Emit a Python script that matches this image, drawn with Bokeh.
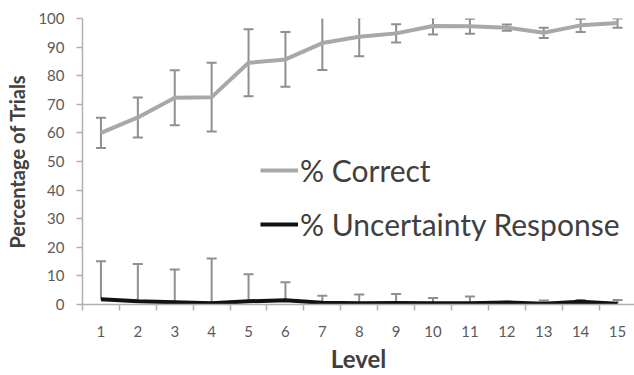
from bokeh.plotting import figure
from bokeh.models import FixedTicker, Range1d, Legend, LegendItem, ColumnDataSource
from bokeh.embed import file_html
from bokeh.resources import INLINE

# ---- data ----
levels = list(range(1, 16))
correct = [60.0, 65.4, 72.3, 72.5, 84.5, 85.7, 91.4, 93.6, 94.8, 97.4, 97.3, 96.8, 95.0, 97.6, 98.4]
correct_err = [5.3, 7.0, 9.6, 12.0, 11.7, 9.6, 9.4, 6.8, 3.2, 3.0, 2.6, 1.1, 1.8, 2.3, 1.6]
uncert = [1.8, 1.1, 0.8, 0.4, 1.1, 1.5, 0.6, 0.4, 0.5, 0.4, 0.4, 0.7, 0.3, 1.0, 0.3]
uncert_err = [13.3, 13.1, 11.4, 15.7, 9.5, 6.3, 2.5, 3.1, 3.2, 1.9, 2.4, 0.3, 1.1, 0.6, 1.3]
y_ticks = list(range(0, 101, 10))
x_minor = [i + 0.5 for i in range(0, 16)]

FONT = "Lato"
GRAY_LINE = "#a8a8a8"
GRAY_ERR = "#8f8f8f"
AXIS_COLOR = "#b0b0b0"
TEXT = "#404040"
TICK_TEXT = "#5a5a5a"

p = figure(width=634, height=375, output_backend="svg", toolbar_location=None,
           x_range=Range1d(0.5, 15.46), y_range=Range1d(0, 100),
           min_border_left=82, min_border_right=0, min_border_top=18, min_border_bottom=71)
p.background_fill_color = "white"
p.border_fill_color = "white"
p.outline_line_color = None
p.grid.grid_line_color = None

# error bars - correct
c_lo = [v - e for v, e in zip(correct, correct_err)]
c_hi = [v + e for v, e in zip(correct, correct_err)]
src_c = ColumnDataSource(dict(x=levels, y=correct, lo=c_lo, hi=c_hi))
p.segment(x0="x", y0="lo", x1="x", y1="hi", source=src_c, line_color=GRAY_ERR, line_width=2)
p.scatter(x="x", y="lo", source=src_c, marker="dash", size=10, line_color=GRAY_ERR, line_width=2)
p.scatter(x="x", y="hi", source=src_c, marker="dash", size=10, line_color=GRAY_ERR, line_width=2)

# error bars - uncertainty (upper part visible)
u_hi = [v + e for v, e in zip(uncert, uncert_err)]
src_u = ColumnDataSource(dict(x=levels, y=uncert, hi=u_hi))
p.segment(x0="x", y0="y", x1="x", y1="hi", source=src_u, line_color=GRAY_ERR, line_width=2)
p.scatter(x="x", y="hi", source=src_u, marker="dash", size=10, line_color=GRAY_ERR, line_width=2)

r_c = p.line(x="x", y="y", source=src_c, line_color=GRAY_LINE, line_width=4)
r_u = p.line(x="x", y="y", source=src_u, line_color="#111111", line_width=4)

legend = Legend(items=[LegendItem(label="% Correct", renderers=[r_c]),
                       LegendItem(label="% Uncertainty Response", renderers=[r_u])],
                location=(178, 62), orientation="vertical")
legend.background_fill_alpha = 0
legend.border_line_color = None
legend.padding = 0
legend.margin = 0
legend.spacing = 18
legend.glyph_width = 38
legend.label_standoff = 2
legend.label_text_font = FONT
legend.label_text_font_size = "30px"
legend.label_text_color = TEXT
p.add_layout(legend, "center")

# axes
xa = p.xaxis[0]
xa.ticker = FixedTicker(ticks=levels, minor_ticks=x_minor)
xa.major_tick_line_color = None
xa.major_tick_out = 0
xa.major_tick_in = 0
xa.minor_tick_line_color = AXIS_COLOR
xa.minor_tick_out = 6
xa.minor_tick_in = 0
xa.minor_tick_line_width = 1.5
xa.axis_line_color = AXIS_COLOR
xa.axis_line_width = 1.5
xa.major_label_text_font = FONT
xa.major_label_text_font_size = "15px"
xa.major_label_text_color = TICK_TEXT
xa.major_label_standoff = 15
xa.axis_label = "Level"
xa.axis_label_text_font = FONT
xa.axis_label_text_font_size = "24px"
xa.axis_label_text_font_style = "bold"
xa.axis_label_text_color = TEXT
xa.axis_label_standoff = 4

ya = p.yaxis[0]
ya.ticker = FixedTicker(ticks=y_ticks)
ya.minor_tick_line_color = None
ya.major_tick_line_color = AXIS_COLOR
ya.major_tick_line_width = 1.5
ya.major_tick_out = 6
ya.major_tick_in = 0
ya.axis_line_color = AXIS_COLOR
ya.axis_line_width = 1.5
ya.major_label_text_font = FONT
ya.major_label_text_font_size = "15px"
ya.major_label_text_color = TICK_TEXT
ya.major_label_standoff = 12
ya.axis_label = "Percentage of Trials"
ya.axis_label_text_font = FONT
ya.axis_label_text_font_size = "20px"
ya.axis_label_text_font_style = "bold"
ya.axis_label_text_color = TEXT
ya.axis_label_standoff = 6

open("out.html", "w").write(file_html(p, INLINE))
